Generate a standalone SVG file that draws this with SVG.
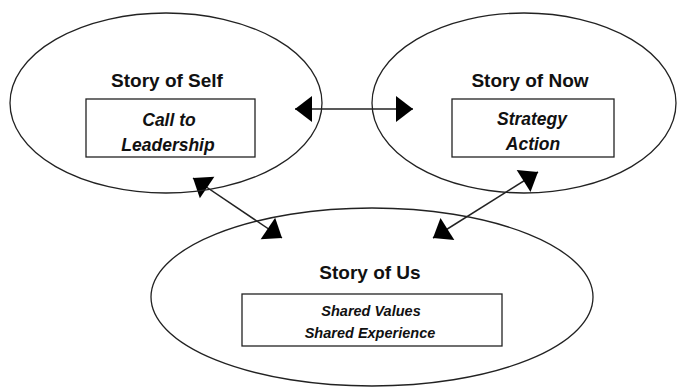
<svg xmlns="http://www.w3.org/2000/svg" width="677" height="387" viewBox="0 0 677 387">
<style>
.ell{fill:none;stroke:#222;stroke-width:1.3}
.box{fill:#fff;stroke:#222;stroke-width:1.3}
.title{font-family:"Liberation Sans",Arial,sans-serif;font-weight:bold;font-size:19px;fill:#111;text-anchor:middle}
.sub{font-family:"Liberation Sans",Arial,sans-serif;font-weight:bold;font-style:italic;font-size:17.5px;fill:#111;text-anchor:middle}
.small{font-family:"Liberation Sans",Arial,sans-serif;font-weight:bold;font-style:italic;font-size:14.5px;fill:#111;text-anchor:middle}
.conn{stroke:#222;stroke-width:1.5;fill:none}
</style>
<defs>
<marker id="ah" markerUnits="userSpaceOnUse" markerWidth="20" markerHeight="28" viewBox="-18 -14 20 28" refX="0" refY="0" orient="auto-start-reverse">
<path d="M0,0 L-17,-13 L-17,13 Z" fill="#000"/>
</marker>
</defs>
<g id="connectors">
<line class="conn" x1="295" y1="109" x2="413" y2="109" marker-start="url(#ah)" marker-end="url(#ah)"/>
<line class="conn" x1="193" y1="178" x2="282" y2="238" marker-start="url(#ah)" marker-end="url(#ah)"/>
<line class="conn" x1="433" y1="238" x2="538" y2="172" marker-start="url(#ah)" marker-end="url(#ah)"/>
</g>
<g id="self">
<ellipse class="ell" cx="166" cy="103" rx="156" ry="90"/>
<text class="title" x="167" y="87">Story of Self</text>
<rect class="box" x="86" y="99" width="169" height="58"/>
<text class="sub" x="169" y="126">Call to</text>
<text class="sub" x="168" y="151">Leadership</text>
</g>
<g id="now">
<ellipse class="ell" cx="524" cy="103" rx="152" ry="90"/>
<text class="title" x="530" y="87">Story of Now</text>
<rect class="box" x="452" y="99" width="162" height="58"/>
<text class="sub" x="532" y="125">Strategy</text>
<text class="sub" x="533" y="150">Action</text>
</g>
<g id="us">
<ellipse class="ell" cx="372" cy="297" rx="221" ry="89"/>
<text class="title" x="370" y="279">Story of Us</text>
<rect class="box" x="242" y="294" width="260" height="52"/>
<text class="small" x="371" y="316">Shared Values</text>
<text class="small" x="370" y="338">Shared Experience</text>
</g>
</svg>
